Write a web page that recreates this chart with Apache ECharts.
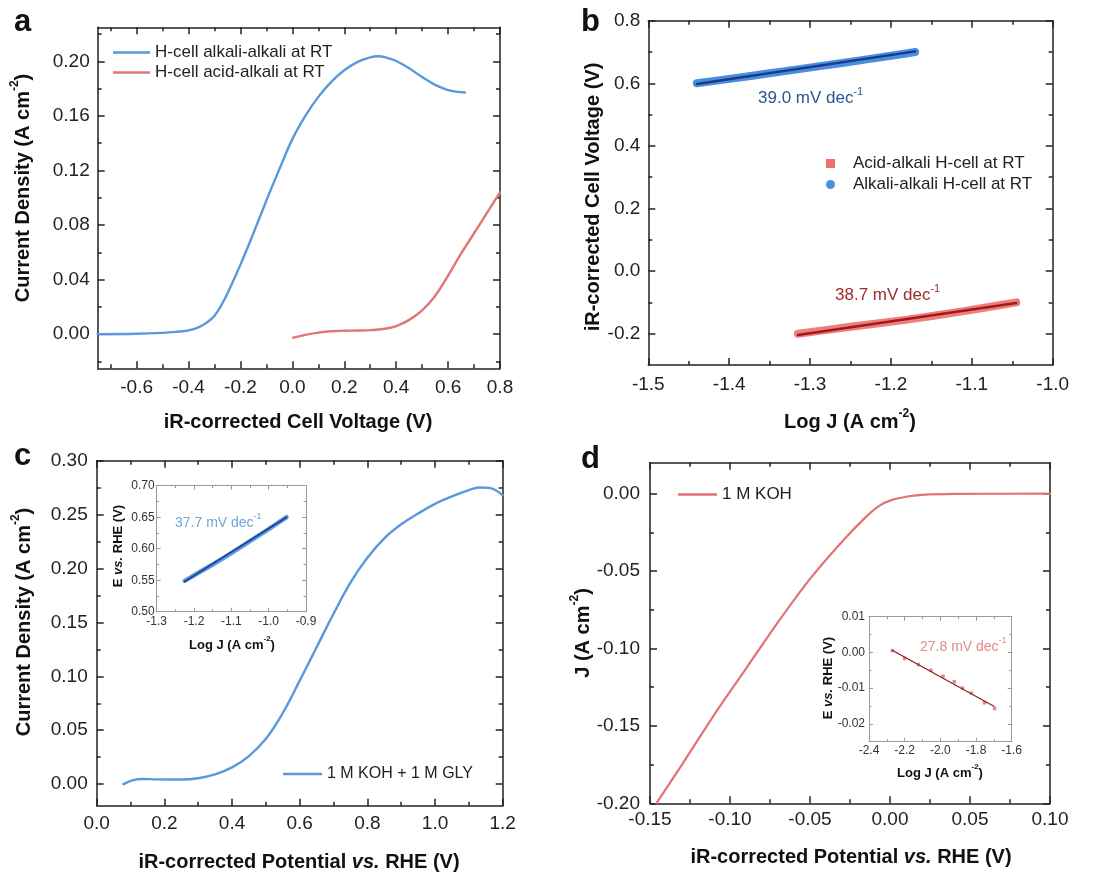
<!DOCTYPE html>
<html><head><meta charset="utf-8">
<script src="https://cdn.jsdelivr.net/npm/echarts@6/dist/echarts.min.js"></script>
<style>html,body{margin:0;padding:0;background:#fff}#main{width:1105px;height:872px}</style>
</head><body><div id="main"></div>
<script>
// ---------------- DATA ----------------
// Panel a
const aAlkX = [-0.75,-0.6,-0.5,-0.45,-0.40,-0.36,-0.33,-0.30,-0.27,-0.24,-0.20,-0.15,-0.10,-0.05,0.0,0.05,0.10,0.15,0.20,0.25,0.30,0.33,0.36,0.40,0.45,0.50,0.55,0.60,0.665];
const aAlkY = [0.0,0.0003,0.001,0.0017,0.0028,0.0052,0.0085,0.0135,0.0225,0.034,0.051,0.074,0.098,0.121,0.143,0.160,0.174,0.185,0.1935,0.1995,0.2030,0.2038,0.2030,0.2003,0.1950,0.1885,0.1828,0.1790,0.1772];
const aAcidX = [0.003,0.05,0.10,0.15,0.20,0.25,0.30,0.35,0.40,0.45,0.50,0.55,0.60,0.65,0.70,0.75,0.80];
const aAcidY = [-0.0025,-0.0005,0.0012,0.0022,0.0025,0.0027,0.003,0.0038,0.006,0.0105,0.0175,0.028,0.043,0.059,0.074,0.089,0.104];
const aXMajor = [-0.6,-0.4,-0.2,0,0.2,0.4,0.6,0.8];
const aXMinor = [-0.7,-0.5,-0.3,-0.1,0.1,0.3,0.5,0.7];
const aYMajor = [0,0.04,0.08,0.12,0.16,0.2];
const aYMinor = [-0.02,0.02,0.06,0.10,0.14,0.18,0.22];
// Panel b
const bAlkX = [-1.44,-1.38,-1.32,-1.26,-1.20,-1.17];
const bAlkY = [0.600,0.621,0.643,0.665,0.688,0.700];
const bAlkFitX = [-1.44,-1.17];
const bAlkFitY = [0.598,0.702];
const bAcidX = [-1.315,-1.25,-1.18,-1.11,-1.045];
const bAcidY = [-0.200,-0.178,-0.155,-0.128,-0.100];
const bAcidFitX = [-1.315,-1.045];
const bAcidFitY = [-0.204,-0.102];
const bXMajor = [-1.5,-1.4,-1.3,-1.2,-1.1,-1.0];
const bXMinor = [-1.45,-1.35,-1.25,-1.15,-1.05];
const bYMajor = [-0.2,0,0.2,0.4,0.6,0.8];
const bYMinor = [-0.1,0.1,0.3,0.5,0.7];
// Panel c
const cX = [0.079,0.105,0.135,0.18,0.25,0.30,0.35,0.40,0.45,0.50,0.55,0.60,0.65,0.70,0.75,0.80,0.85,0.90,0.95,1.00,1.05,1.10,1.13,1.16,1.20];
const cY = [0.0,0.0035,0.0048,0.0044,0.0043,0.0055,0.009,0.0155,0.026,0.042,0.066,0.096,0.127,0.158,0.187,0.210,0.228,0.241,0.251,0.260,0.267,0.2728,0.2752,0.2748,0.268];
const cXMajor = [0,0.2,0.4,0.6,0.8,1.0,1.2];
const cXMinor = [0.1,0.3,0.5,0.7,0.9,1.1];
const cYMajor = [0,0.05,0.10,0.15,0.20,0.25,0.30];
const cYMinor = [0.025,0.075,0.125,0.175,0.225,0.275];
// Panel c inset
const ciX = [-1.225,-1.15,-1.10,-1.05,-1.00,-0.952];
const ciY = [0.549,0.575,0.593,0.612,0.631,0.650];
const ciFitX = [-1.225,-0.952];
const ciFitY = [0.548,0.650];
const ciXMajor = [-1.3,-1.2,-1.1,-1.0,-0.9];
const ciXMinor = [-1.25,-1.15,-1.05,-0.95];
const ciYMajor = [0.5,0.55,0.6,0.65,0.7];
const ciYMinor = [0.525,0.575,0.625,0.675];
// Panel d
const dX = [-0.146,-0.13,-0.11,-0.09,-0.07,-0.05,-0.03,-0.015,-0.007,0.0,0.01,0.02,0.04,0.1];
const dY = [-0.200,-0.175,-0.143,-0.113,-0.083,-0.055,-0.031,-0.015,-0.008,-0.0045,-0.002,-0.0008,-0.0002,0.0];
const dXMajor = [-0.15,-0.10,-0.05,0,0.05,0.10];
const dXMinor = [-0.125,-0.075,-0.025,0.025,0.075];
const dYMajor = [-0.2,-0.15,-0.1,-0.05,0];
const dYMinor = [-0.175,-0.125,-0.075,-0.025];
// Panel d inset
const diX = [-2.269,-2.20,-2.123,-2.053,-1.985,-1.922,-1.876,-1.826,-1.752,-1.696];
const diY = [0.0005,-0.0017,-0.0034,-0.005,-0.0067,-0.0082,-0.0100,-0.0114,-0.0141,-0.0157];
const diFitX = [-2.27,-1.70];
const diFitY = [0.0006,-0.0151];
const diXMajor = [-2.4,-2.2,-2.0,-1.8,-1.6];
const diXMinor = [-2.3,-2.1,-1.9,-1.7];
const diYMajor = [-0.02,-0.01,0,0.01];
const diYMinor = [-0.025,-0.015,-0.005,0.005];

// ---------------- BUILD ----------------
const FONT = '"Liberation Sans", Arial, sans-serif';
const zip = (xs, ys) => xs.map((x, i) => [x, ys[i]]);
const f1 = v => v.toFixed(1), f2 = v => v.toFixed(2);

const xAxes = [], yAxes = [];
const MAIN = {line:'#222', lw:1.5, major:7, minor:4, fs:19, lab:'#222'};
const INSET = {line:'#999', lw:1, major:4, minor:2.5, fs:12, lab:'#333'};

function addAxes(list, dim, grid, min, max, majors, minors, fmt, st, margin) {
  const base = list.length;
  const pos = dim === 'x' ? ['bottom','top'] : ['left','right'];
  const ls = {color: st.line, width: st.lw};
  const common = {type:'value', gridIndex:grid, min, max, splitLine:{show:false}, scale:false};
  const tick = (vals, len) => ({show:true, inside:true, length:len, customValues:vals, lineStyle:ls});
  list.push(Object.assign({}, common, {position:pos[0], axisLine:{show:true,onZero:false,lineStyle:ls},
    axisTick:tick(majors, st.major),
    axisLabel:{show:true, customValues:majors, formatter:fmt, fontSize:st.fs, color:st.lab, fontFamily:FONT, margin:margin}}));
  list.push(Object.assign({}, common, {position:pos[0], axisLine:{show:false,onZero:false}, axisTick:tick(minors, st.minor), axisLabel:{show:false}}));
  list.push(Object.assign({}, common, {position:pos[1], axisLine:{show:true,onZero:false,lineStyle:ls}, axisTick:tick(majors, st.major), axisLabel:{show:false}}));
  list.push(Object.assign({}, common, {position:pos[1], axisLine:{show:false,onZero:false}, axisTick:tick(minors, st.minor), axisLabel:{show:false}}));
  return base;
}

const grids = [
  {left:97.7, top:27.3, width:402.3, height:341},   // a
  {left:648.3, top:20.7, width:404.4, height:344.3}, // b
  {left:96.7, top:460.7, width:406, height:345},     // c
  {left:650, top:462.7, width:400, height:340.6},    // d
  {left:156.7, top:485.7, width:149.3, height:126},  // c inset
  {left:869, top:616.7, width:142.7, height:125}     // d inset
];

const ax = {};
ax.a = [addAxes(xAxes,'x',0,-0.75,0.8,aXMajor,aXMinor,f1,MAIN,10), addAxes(yAxes,'y',0,-0.025,0.225,aYMajor,aYMinor,f2,MAIN,8)];
ax.b = [addAxes(xAxes,'x',1,-1.5,-1.0,bXMajor,bXMinor,f1,MAIN,10), addAxes(yAxes,'y',1,-0.3,0.8,bYMajor,bYMinor,f1,MAIN,8)];
ax.c = [addAxes(xAxes,'x',2,0,1.2,cXMajor,cXMinor,f1,MAIN,9), addAxes(yAxes,'y',2,-0.02,0.30,cYMajor,cYMinor,f2,MAIN,9)];
ax.d = [addAxes(xAxes,'x',3,-0.15,0.10,dXMajor,dXMinor,f2,MAIN,7), addAxes(yAxes,'y',3,-0.2,0.02,dYMajor,dYMinor,f2,MAIN,10)];
ax.ci = [addAxes(xAxes,'x',4,-1.3,-0.9,ciXMajor,ciXMinor,f1,INSET,4), addAxes(yAxes,'y',4,0.5,0.7,ciYMajor,ciYMinor,f2,INSET,2)];
ax.di = [addAxes(xAxes,'x',5,-2.4,-1.6,diXMajor,diXMinor,f1,INSET,3), addAxes(yAxes,'y',5,-0.025,0.01,diYMajor,diYMinor,f2,INSET,4)];

function line(name, key, xs, ys, color, width, extra) {
  return Object.assign({type:'line', name, xAxisIndex:ax[key][0], yAxisIndex:ax[key][1], data:zip(xs, ys),
    showSymbol:false, symbol:'none', smooth:0.4, color, lineStyle:{color, width, cap:'round', join:'round'},
    itemStyle:{color}, emphasis:{disabled:true}, animation:false}, extra || {});
}

const BLUE_A = '#5a98dc', RED_A = '#e27575';
const series = [
  line('H-cell alkali-alkali at RT','a',aAlkX,aAlkY,BLUE_A,2.4),
  line('H-cell acid-alkali at RT','a',aAcidX,aAcidY,RED_A,2.4),
  line('Acid-alkali H-cell at RT','b',bAcidX,bAcidY,'#ec7070',8,{smooth:0.2, lineStyle:{color:'#ec7070',width:8,cap:'round',opacity:0.9}}),
  line('Alkali-alkali H-cell at RT','b',bAlkX,bAlkY,'#4a8ee0',8,{smooth:0.2, lineStyle:{color:'#4a8ee0',width:8,cap:'round'}}),
  line('fitAcid','b',bAcidFitX,bAcidFitY,'#a11a1a',2.5,{smooth:false}),
  line('fitAlk','b',bAlkFitX,bAlkFitY,'#1c3a88',2.5,{smooth:false}),
  line('1 M KOH + 1 M GLY','c',cX,cY,'#5a98dc',2.4),
  line('ciData','ci',ciX,ciY,'#5f9de2',4.5,{smooth:0.2}),
  line('ciFit','ci',ciFitX,ciFitY,'#1d4591',1.8,{smooth:false}),
  line('1 M KOH','d',dX,dY,'#e27276',2.2,{smooth:0.25}),
  {type:'scatter', name:'diData', xAxisIndex:ax.di[0], yAxisIndex:ax.di[1], data:zip(diX, diY), symbol:'rect', symbolSize:3.5,
    itemStyle:{color:'#e06b6b'}, emphasis:{disabled:true}, animation:false},
  line('diFit','di',diFitX,diFitY,'#8a2020',1.2,{smooth:false})
];

const legTxt = (fs, pad) => ({fontSize:fs, fontFamily:FONT, color:'#222', padding: pad || 0});
const legends = [
  {left:113, top:44, orient:'vertical', padding:0, itemGap:3, itemWidth:37, itemHeight:2.5, icon:'rect', symbolKeepAspect:false,
    data:['H-cell alkali-alkali at RT','H-cell acid-alkali at RT'], textStyle:legTxt(17), selectedMode:false},
  {left:826, top:155, orient:'vertical', padding:0, itemGap:4, itemWidth:9, itemHeight:9,
    data:[{name:'Acid-alkali H-cell at RT', icon:'rect'},{name:'Alkali-alkali H-cell at RT', icon:'circle'}], textStyle:legTxt(17,[0,0,0,13]), selectedMode:false},
  {left:283, top:766, orient:'vertical', padding:0, itemWidth:39, itemHeight:2.5, icon:'rect', symbolKeepAspect:false,
    data:['1 M KOH + 1 M GLY'], textStyle:legTxt(16), selectedMode:false},
  {left:678, top:486, orient:'vertical', padding:0, itemWidth:39, itemHeight:2.5, icon:'rect', symbolKeepAspect:false,
    data:['1 M KOH'], textStyle:legTxt(17), selectedMode:false}
];

// text helpers
function title(x, y, text, fs, rot) {
  return {type:'text', x, y, rotation: rot ? Math.PI/2 : 0, z:100,
    style:{text, fontSize:fs, fontWeight:'bold', fontFamily:FONT, fill:'#111', align:'center', verticalAlign:'middle', lineHeight:fs+8,
      rich:{s:{fontSize:Math.round(fs*0.62), fontWeight:'bold', fontFamily:FONT, fill:'#111', verticalAlign:'top', lineHeight:Math.round(fs*0.62)+1},
            i:{fontSize:fs, fontWeight:'bold', fontStyle:'italic', fontFamily:FONT, fill:'#111', lineHeight:fs+8}}}};
}
function note(x, y, text, fs, color) {
  return {type:'text', x, y, z:100,
    style:{text, fontSize:fs, fontFamily:FONT, fill:color, align:'left', verticalAlign:'middle', lineHeight:fs+7,
      rich:{s:{fontSize:Math.round(fs*0.62), fontFamily:FONT, fill:color, verticalAlign:'top', lineHeight:Math.round(fs*0.62)+1}}}};
}
function plabel(x, y, t) {
  return {type:'text', x, y, z:100, style:{text:t, fontSize:31, fontWeight:'bold', fontFamily:FONT, fill:'#111', align:'left', verticalAlign:'middle'}};
}

const graphics = [
  plabel(14, 22, 'a'), plabel(581, 22, 'b'), plabel(14, 456, 'c'), plabel(581, 459, 'd'),
  title(298, 422, 'iR-corrected Cell Voltage (V)', 20, false),
  title(23, 188, 'Current Density (A cm{s|-2})', 20, true),
  title(850, 422, 'Log J (A cm{s|-2})', 20, false),
  title(593, 197, 'iR-corrected Cell Voltage (V)', 20, true),
  title(299, 862, 'iR-corrected Potential {i|vs.} RHE (V)', 20, false),
  title(24, 622, 'Current Density (A cm{s|-2})', 20, true),
  title(851, 857, 'iR-corrected Potential {i|vs.} RHE (V)', 20, false),
  title(583, 633, 'J (A cm{s|-2})', 20, true),
  title(232, 645, 'Log J (A cm{s|-2})', 13, false),
  title(118, 546, 'E {i|vs.} RHE (V)', 13, true),
  title(940, 773, 'Log J (A cm{s|-2})', 13, false),
  title(828, 678, 'E {i|vs.} RHE (V)', 13, true),
  note(758, 98, '39.0 mV dec{s|-1}', 17, '#2c5491'),
  note(835, 295, '38.7 mV dec{s|-1}', 17, '#9e2b2b'),
  note(175, 523, '37.7 mV dec{s|-1}', 14, '#72a3da'),
  note(920, 647, '27.8 mV dec{s|-1}', 14, '#e08a8a')
];

const chart = echarts.init(document.getElementById('main'), null, {renderer:'canvas'});
chart.setOption({
  backgroundColor:'#fff',
  animation:false,
  grid: grids.map(g => Object.assign({containLabel:false}, g)),
  xAxis: xAxes,
  yAxis: yAxes,
  legend: legends,
  series,
  graphic: graphics
});
</script></body></html>
